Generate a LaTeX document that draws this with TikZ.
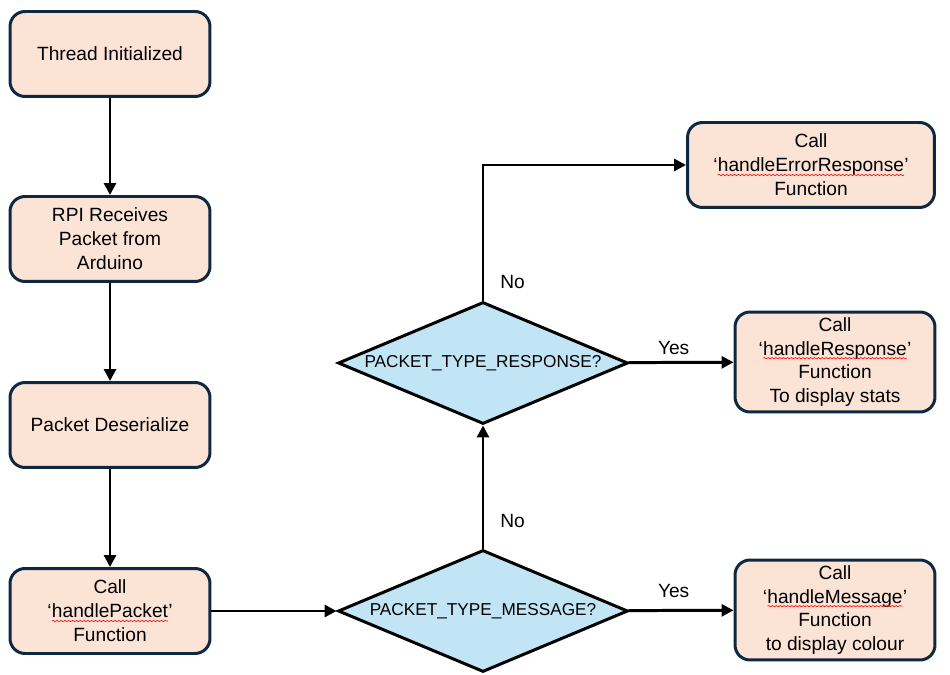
\documentclass[tikz,border=0pt]{standalone}
\usepackage{fontspec}
\setmainfont{Liberation Sans}
\usetikzlibrary{arrows.meta,shapes.geometric,decorations.pathmorphing}
\definecolor{peach}{HTML}{FBE3D6}
\definecolor{navy}{HTML}{0E2841}
\definecolor{skyb}{HTML}{C1E5F5}
\tikzset{bx/.append style={draw=navy,fill=peach,rounded corners=0.3cm,line width=1.7pt,minimum width=4cm,minimum height=1.7cm,align=center,inner sep=0.05cm}}
\tikzset{dm/.append style={diamond,draw=black,fill=skyb,line width=1.7pt,minimum width=5.8cm,minimum height=2.44cm,aspect=2.4,inner sep=0pt,font=\fontsize{9.8}{12}\selectfont}}
\tikzset{ar/.append style={-{Triangle[length=0.24cm,width=0.24cm]},line width=1.7pt}}
\newcommand{\sq}[1]{\tikz[baseline=(w.base),x=1cm,y=1cm]{\node[inner sep=0pt,outer sep=0pt,minimum size=0pt,draw=none,fill=none] (w) {#1};\draw[red,line width=0.35pt,sharp corners,decorate,decoration={snake,amplitude=0.35pt,segment length=2.2pt}] ([yshift=-1.8pt]w.base west) -- ([yshift=-1.8pt]w.base east);}}

\begin{document}
\begin{tikzpicture}[x=0.02cm,y=-0.02cm,font=\fontsize{10.9}{13.6}\selectfont]
                \useasboundingbox (0,0) rectangle (950,675);
                % left column
                \node[bx] (ti) at (110,54) {Thread Initialized};
                \node[bx] (rr) at (110,239) {RPI Receives\\Packet from\\Arduino};
                \node[bx] (pd) at (110,425) {Packet Deserialize};
                \node[bx] (hp) at (110,611) {Call\\`\sq{handlePacket}'\\Function};
                % decisions
                \node[dm] (dm) at (483,611) {PACKET\_TYPE\_MESSAGE?};
                \node[dm] (dr) at (483,363) {PACKET\_TYPE\_RESPONSE?};
                % right column
                \node[bx,minimum width=4.94cm] (ber) at (811,165) {Call\\`\sq{handleErrorResponse}'\\Function};
                \node[bx,minimum height=2cm] (brs) at (835,362) {Call\\`\sq{handleResponse}'\\Function\\To display stats};
                \node[bx,minimum height=2cm] (bm) at (835,610) {Call\\`\sq{handleMessage}'\\Function\\to display colour};
                \draw[ar] (ti) -- (rr);
                \draw[ar] (rr) -- (pd);
                \draw[ar] (pd) -- (hp);
                \draw[ar] (hp) -- (dm);
                \draw[ar] (dm) -- node[above=0.1cm,pos=0.43]{Yes} (bm);
                \draw[ar] (dm) -- node[pos=0.22,right=0.2cm]{No} (dr);
                \draw[ar] (dr) |- node[pos=0.07,right=0.2cm]{No} (ber);
                \draw[ar] (dr) -- node[above,pos=0.43]{Yes} (brs);
            \end{tikzpicture}
\end{document}
